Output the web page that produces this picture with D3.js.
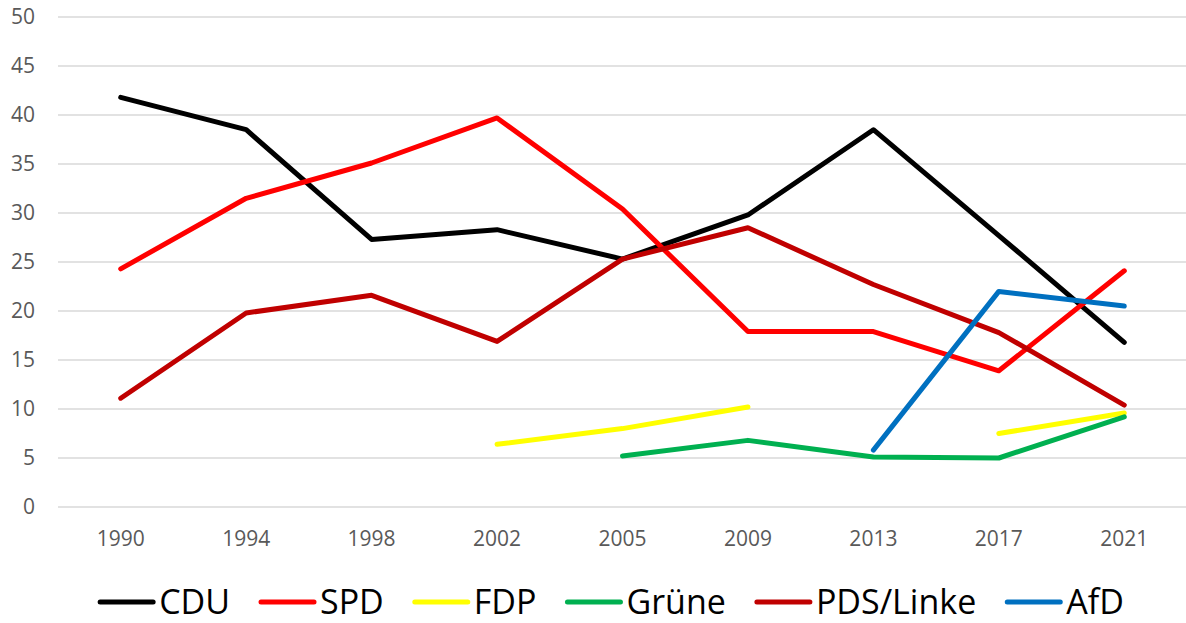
<!DOCTYPE html>
<html><head><meta charset="utf-8">
<script src="https://cdn.jsdelivr.net/npm/d3@7"></script>
<style>
html,body{margin:0;padding:0;background:#fff;}
svg{display:block;}
text{font-family:"Open Sans",sans-serif;}
</style></head>
<body>
<svg id="chart" width="1186" height="623"></svg>
<script>
const years = ["1990","1994","1998","2002","2005","2009","2013","2017","2021"];
const yTicks = [0,5,10,15,20,25,30,35,40,45,50];
const cdu   = [41.8,38.5,27.3,28.3,25.3,29.8,38.5,27.7,16.8];
const spd   = [24.3,31.5,35.1,39.7,30.4,17.9,17.9,13.9,24.1];
const fdp   = [null,null,null,6.4,8.0,10.2,null,7.5,9.6];
const gruene= [null,null,null,null,5.2,6.8,5.1,5.0,9.2];
const linke = [11.1,19.8,21.6,16.9,25.3,28.5,22.7,17.8,10.4];
const afd   = [null,null,null,null,null,null,5.8,22.0,20.5];
const seriesNames = ["CDU","SPD","FDP","Grüne","PDS/Linke","AfD"];
const seriesColors = ["#000000","#ff0000","#ffff00","#00b050","#c00000","#0070c0"];
const seriesValues = [cdu,spd,fdp,gruene,linke,afd];

const svg = d3.select("#chart");
const x = d3.scaleBand().domain(years).range([58,1187]);
const y = d3.scaleLinear().domain([0,50]).range([507,17]);
const cx = d => x(d) + x.bandwidth()/2;

// gridlines
svg.append("g").selectAll("line").data(yTicks).join("line")
  .attr("x1",58).attr("x2",1186)
  .attr("y1",d=>y(d)).attr("y2",d=>y(d))
  .attr("stroke","#d9d9d9").attr("stroke-width",1.5);

// y axis labels
const yAxis = d3.axisLeft(y).tickValues(yTicks).tickSize(0).tickPadding(0);
const gy = svg.append("g").attr("transform","translate(35,0)").call(yAxis);
gy.select(".domain").remove();
gy.attr("font-size",null).attr("font-family",null);
gy.selectAll("text").attr("fill","#595959").style("font-size","21px");

// x axis labels
const xAxis = d3.axisBottom(x).tickSize(0).tickPadding(0);
const gx = svg.append("g").attr("transform","translate(0,531)").call(xAxis);
gx.select(".domain").remove();
gx.attr("font-size",null).attr("font-family",null);
gx.selectAll("text").attr("fill","#595959").style("font-size","21px");

// lines
const line = d3.line().defined(d=>d.v!=null).x(d=>cx(d.year)).y(d=>y(d.v));
seriesValues.forEach((vals,i)=>{
  const pts = years.map((yr,j)=>({year:yr,v:vals[j]}));
  svg.append("path").datum(pts).attr("d",line)
    .attr("fill","none").attr("stroke",seriesColors[i])
    .attr("stroke-width",5).attr("stroke-linecap","round").attr("stroke-linejoin","round");
});

// legend
const lg = svg.append("g");
let lx = 0;
seriesNames.forEach((name,i)=>{
  const g = lg.append("g");
  g.append("line").attr("x1",0).attr("x2",53).attr("y1",0).attr("y2",0)
    .attr("stroke",seriesColors[i]).attr("stroke-width",5).attr("stroke-linecap","round");
  const t = g.append("text").attr("x",59).attr("y",0).attr("dy","0.36em")
    .style("font-size","34px").attr("fill","#000").text(name);
  const w = 59 + t.node().getComputedTextLength();
  g.attr("transform",`translate(${lx},602)`);
  lx += w + 31;
});
const total = lx - 31;
lg.attr("transform",`translate(${612 - total/2},0)`);
</script>
</body></html>
